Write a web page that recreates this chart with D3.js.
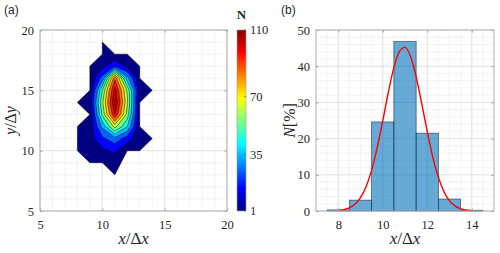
<!DOCTYPE html>
<html>
<head>
<meta charset="utf-8">
<script src="https://cdn.jsdelivr.net/npm/d3@7"></script>
<style>
body { margin: 0; background: #fff; }
text { font-family: "Liberation Serif", serif; fill: #262626; }
</style>
</head>
<body>
<div id="chart"></div>
<script>
// ---- panel (a): 2D count grid, rows are y = 8..19, columns x = 8..14
var gridX = [8, 9, 10, 11, 12, 13, 14];
var gridY = [8, 9, 10, 11, 12, 13, 14, 15, 16, 17, 18, 19];
var counts = [
    [0, 0, 0, 1, 0, 0, 0],
    [0, 1, 1, 2, 0, 0, 0],
    [1, 3, 8, 12, 1, 1, 0],
    [1, 5, 18, 26, 15, 3, 1],
    [1, 3, 32, 64, 40, 1, 0],
    [0, 1, 52, 100, 56, 1, 0],
    [1, 4, 58, 110, 62, 1, 0],
    [0, 1, 50, 104, 58, 4, 1],
    [0, 1, 24, 88, 34, 1, 0],
    [0, 1, 7, 19, 8, 1, 0],
    [0, 0, 1, 1, 1, 0, 0],
    [0, 0, 1, 0, 0, 0, 0]
];
var levels = [1, 10, 20, 30, 40, 50, 60, 70, 80, 90, 100];
var cbarTicks = [1, 35, 70, 110];
var ticksA = [5, 10, 15, 20];

// ---- panel (b): histogram in percent + fitted curve
var binCenters = [8, 9, 10, 11, 12, 13, 14];
var binPct = [0.3, 3.0, 24.6, 46.8, 21.5, 3.3, 0.2];
var fitX = [8, 8.25, 8.5, 8.75, 9, 9.25, 9.5, 9.75, 10, 10.25, 10.5, 10.75, 11,
    11.25, 11.5, 11.75, 12, 12.25, 12.5, 12.75, 13, 13.25, 13.5, 13.75, 14];
var fitY = [0.14, 0.37, 0.86, 1.85, 3.7, 6.7, 11.3, 17.5, 24.9, 32.8, 39.6, 44.1, 45.2,
    42.7, 37.1, 29.7, 21.9, 14.8, 9.3, 5.3, 2.8, 1.4, 0.6, 0.26, 0.1];
var xTicksB = [8, 10, 12, 14];
var yTicksB = [0, 10, 20, 30, 40, 50];

var svgW = 500;
var svgH = 253;

var svg = d3.select("#chart")
    .append("svg")
    .attr("width", svgW)
    .attr("height", svgH);

var jet = d3.scaleLinear()
    .domain([0, 0.125, 0.375, 0.625, 0.875, 1])
    .range(["#000080", "#0000ff", "#00ffff", "#ffff00", "#ff0000", "#800000"]);
var cNorm = d3.scaleLinear().domain([1, 110]).range([0, 1]).clamp(true);

// fill of a band: lowest band is dark navy, the others take the band middle
function bandColor(lv) {
    return lv <= 1 ? jet(0) : jet(cNorm(lv + 5));
}

function drawFrame(g, xScale, yScale, w, h, xMinor, yMinor, xTicks, yTicks) {
    g.append("rect").attr("width", w).attr("height", h).attr("fill", "#fff");
    g.selectAll(".vminor").data(xMinor).enter().append("line")
        .attr("x1", d => xScale(d)).attr("x2", d => xScale(d))
        .attr("y1", 0).attr("y2", h)
        .attr("stroke", "#efefef").attr("stroke-width", 0.7);
    g.selectAll(".hminor").data(yMinor).enter().append("line")
        .attr("y1", d => yScale(d)).attr("y2", d => yScale(d))
        .attr("x1", 0).attr("x2", w)
        .attr("stroke", "#efefef").attr("stroke-width", 0.7);
    g.selectAll(".vmajor").data(xTicks).enter().append("line")
        .attr("x1", d => xScale(d)).attr("x2", d => xScale(d))
        .attr("y1", 0).attr("y2", h)
        .attr("stroke", "#dedede").attr("stroke-width", 0.8);
    g.selectAll(".hmajor").data(yTicks).enter().append("line")
        .attr("y1", d => yScale(d)).attr("y2", d => yScale(d))
        .attr("x1", 0).attr("x2", w)
        .attr("stroke", "#dedede").attr("stroke-width", 0.8);
}

function drawAxes(g, xScale, yScale, w, h, xTicks, yTicks) {
    var ax = [
        [d3.axisBottom(xScale), `translate(0, ${h})`, true],
        [d3.axisTop(xScale), "translate(0, 0)", false],
    ];
    ax.forEach(a => {
        var s = g.append("g").attr("transform", a[1])
            .call(a[0].tickValues(xTicks).tickSize(-2.5).tickPadding(a[2] ? 9 : 0)
                .tickFormat(a[2] ? d3.format("d") : ""));
        s.select(".domain").remove();
        s.selectAll("line").attr("stroke", "#9a9a9a");
        s.selectAll("text").attr("font-size", 12.5).attr("fill", "#262626");
    });
    var ay = [
        [d3.axisLeft(yScale), "translate(0, 0)", true],
        [d3.axisRight(yScale), `translate(${w}, 0)`, false],
    ];
    ay.forEach(a => {
        var s = g.append("g").attr("transform", a[1])
            .call(a[0].tickValues(yTicks).tickSize(-2.5).tickPadding(a[2] ? 6 : 0)
                .tickFormat(a[2] ? d3.format("d") : ""));
        s.select(".domain").remove();
        s.selectAll("line").attr("stroke", "#9a9a9a");
        s.selectAll("text").attr("font-size", 12.5).attr("fill", "#262626");
    });
    g.append("rect").attr("width", w).attr("height", h)
        .attr("fill", "none").attr("stroke", "#b4b4b4").attr("stroke-width", 1);
}

// ================= panel (a) =================
var mA = { left: 40, top: 30, w: 187, h: 181 };
var gA = svg.append("g").attr("transform", `translate(${mA.left}, ${mA.top})`);
var xA = d3.scaleLinear().domain([5, 20]).range([0, mA.w]);
var yA = d3.scaleLinear().domain([5, 20]).range([mA.h, 0]);

drawFrame(gA, xA, yA, mA.w, mA.h, d3.range(5, 21, 1), d3.range(5, 21, 1), ticksA, ticksA);

// pad the grid with a ring of zeros so the outer contour closes
var nx = gridX.length + 2;
var ny = gridY.length + 2;
var x0 = gridX[0] - 1;
var y0 = gridY[0] - 1;
var values = new Array(nx * ny).fill(0);
counts.forEach((row, j) => {
    row.forEach((v, i) => { values[(j + 1) * nx + (i + 1)] = v; });
});

var contours = d3.contours().size([nx, ny]).thresholds(levels)(values);
var proj = d3.geoTransform({
    point: function (px, py) {
        this.stream.point(xA(x0 + px - 0.5), yA(y0 + py - 0.5));
    }
});
var path = d3.geoPath(proj);

gA.append("g").selectAll("path")
    .data(contours)
    .enter()
    .append("path")
    .attr("d", path)
    .attr("fill", d => bandColor(d.value))
    .attr("stroke", "#000")
    .attr("stroke-width", 0.5)
    .attr("stroke-linejoin", "round");

drawAxes(gA, xA, yA, mA.w, mA.h, ticksA, ticksA);

gA.append("text")
    .attr("x", mA.w / 2)
    .attr("y", mA.h + 33)
    .attr("text-anchor", "middle")
    .attr("font-size", 17)
    .html('<tspan font-style="italic">x</tspan>/Δ<tspan font-style="italic">x</tspan>');

gA.append("text")
    .attr("transform", `translate(-24, ${mA.h / 2}) rotate(-90)`)
    .attr("text-anchor", "middle")
    .attr("font-size", 16)
    .html('<tspan font-style="italic">y</tspan>/Δ<tspan font-style="italic">y</tspan>');

svg.append("text")
    .attr("x", 4).attr("y", 14)
    .attr("font-size", 12)
    .style("font-family", "'Liberation Sans', Arial, sans-serif")
    .text("(a)");

// colorbar
var cb = { x: 237, y: 30, w: 9, h: 181 };
var cScale = d3.scaleLinear().domain([1, 110]).range([cb.h, 0]);
var grad = svg.append("defs").append("linearGradient")
    .attr("id", "jetgrad")
    .attr("x1", 0).attr("y1", 1).attr("x2", 0).attr("y2", 0);
jet.domain().forEach(t => {
    grad.append("stop").attr("offset", t).attr("stop-color", jet(t));
});
var gC = svg.append("g").attr("transform", `translate(${cb.x}, ${cb.y})`);
gC.append("rect")
    .attr("width", cb.w).attr("height", cb.h)
    .attr("fill", "url(#jetgrad)")
    .attr("stroke", "#9a9a9a").attr("stroke-width", 0.6);
gC.selectAll(".ct").data(cbarTicks).enter().append("line")
    .attr("x1", cb.w - 2).attr("x2", cb.w)
    .attr("y1", d => cScale(d)).attr("y2", d => cScale(d))
    .attr("stroke", "#555").attr("stroke-width", 0.6);
gC.selectAll(".cl").data(cbarTicks).enter().append("text")
    .attr("x", cb.w + 4)
    .attr("y", d => cScale(d))
    .attr("dy", "0.35em")
    .attr("font-size", 12.5)
    .text(d => d);
gC.append("text")
    .attr("x", cb.w / 2)
    .attr("y", -11)
    .attr("text-anchor", "middle")
    .attr("font-size", 13)
    .attr("font-weight", "bold")
    .text("N");

// ================= panel (b) =================
var mB = { left: 316, top: 30, w: 178, h: 181 };
var gB = svg.append("g").attr("transform", `translate(${mB.left}, ${mB.top})`);
var xB = d3.scaleLinear().domain([7, 15]).range([0, mB.w]);
var yB = d3.scaleLinear().domain([0, 50]).range([mB.h, 0]);

drawFrame(gB, xB, yB, mB.w, mB.h, d3.range(7, 15.01, 0.5), d3.range(0, 51, 2), xTicksB, yTicksB);

gB.selectAll(".bar")
    .data(binCenters)
    .enter()
    .append("rect")
    .attr("x", d => xB(d - 0.5))
    .attr("width", d => xB(d + 0.5) - xB(d - 0.5))
    .attr("y", (d, i) => yB(binPct[i]))
    .attr("height", (d, i) => yB(0) - yB(binPct[i]))
    .attr("fill", "#0072bd")
    .attr("fill-opacity", 0.6)
    .attr("stroke", "#1b2f40")
    .attr("stroke-opacity", 0.8)
    .attr("stroke-width", 0.7);

var fitLine = d3.line()
    .x((d, i) => xB(fitX[i]))
    .y(d => yB(d))
    .curve(d3.curveMonotoneX);

gB.append("path")
    .attr("d", fitLine(fitY))
    .attr("fill", "none")
    .attr("stroke", "#ff0000")
    .attr("stroke-width", 1.4);

drawAxes(gB, xB, yB, mB.w, mB.h, xTicksB, yTicksB);

gB.append("text")
    .attr("x", mB.w / 2)
    .attr("y", mB.h + 33)
    .attr("text-anchor", "middle")
    .attr("font-size", 17)
    .html('<tspan font-style="italic">x</tspan>/Δ<tspan font-style="italic">x</tspan>');

gB.append("text")
    .attr("transform", `translate(-21, ${mB.h / 2}) rotate(-90)`)
    .attr("text-anchor", "middle")
    .attr("font-size", 16)
    .html('<tspan font-style="italic">N</tspan>[%]');

svg.append("text")
    .attr("x", 281).attr("y", 14)
    .attr("font-size", 12)
    .style("font-family", "'Liberation Sans', Arial, sans-serif")
    .text("(b)");
</script>
</body>
</html>
